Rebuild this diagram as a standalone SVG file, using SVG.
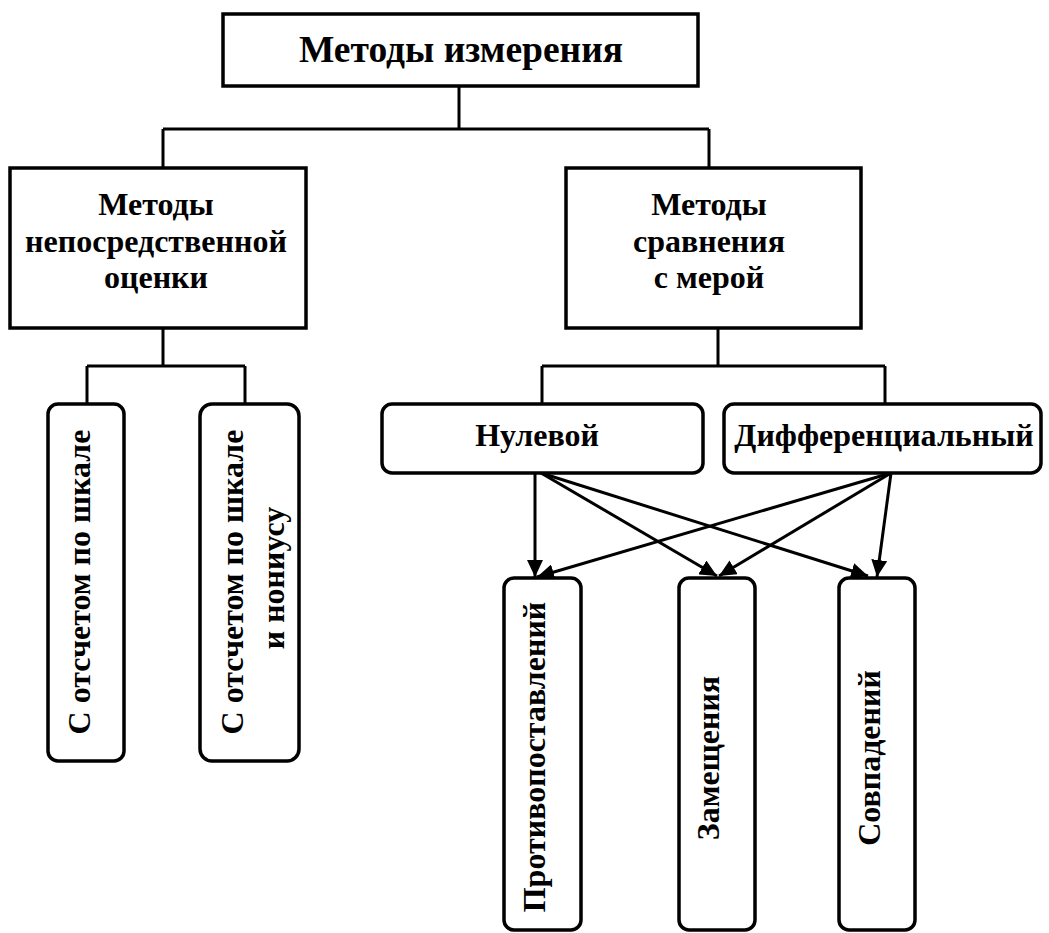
<svg xmlns="http://www.w3.org/2000/svg" width="1049" height="933" viewBox="0 0 1049 933">
<defs>
<style>
.box{fill:#fff;stroke:#000;stroke-width:3.5}
.ln{fill:none;stroke:#000;stroke-width:3}
.ar{fill:none;stroke:#000;stroke-width:3;marker-end:url(#ah)}
.t{font-family:"Liberation Serif","Times New Roman",serif;font-weight:bold;font-size:32px;fill:#000;text-anchor:middle}
.tt{font-size:37.5px}
</style>
<marker id="ah" markerUnits="userSpaceOnUse" markerWidth="17" markerHeight="16" refX="17" refY="8" orient="auto">
<path d="M0,0 L17,8 L0,16 z" fill="#000"/>
</marker>
</defs>
<rect width="1049" height="933" fill="#fff"/>
<g id="connectors">
<path class="ln" d="M459,86 V129 M163,129 H709 M163,129 V168 M709,129 V168"/>
<path class="ln" d="M163,328 V366 M87,366 H245 M87,366 V404 M245,366 V404"/>
<path class="ln" d="M718,328 V366 M542,366 H885 M542,366 V404 M885,366 V404"/>
<line class="ar" x1="535" y1="473" x2="535" y2="577"/>
<line class="ar" x1="541" y1="473" x2="717" y2="576"/>
<line class="ar" x1="541" y1="473" x2="868" y2="576"/>
<line class="ar" x1="891" y1="473" x2="537" y2="577"/>
<line class="ar" x1="891" y1="473" x2="719" y2="576"/>
<line class="ar" x1="891" y1="473" x2="877" y2="577"/>
</g>
<g id="n-root">
<rect class="box" x="223" y="14" width="475" height="72"/>
<text class="t tt" x="461" y="62">Методы измерения</text>
</g>
<g id="n-direct">
<rect class="box" x="10" y="168" width="296" height="160"/>
<text class="t" x="156" y="215">Методы</text>
<text class="t" x="156" y="252">непосредственной</text>
<text class="t" x="156" y="288">оценки</text>
</g>
<g id="n-compare">
<rect class="box" x="566" y="168" width="295" height="160"/>
<text class="t" x="709" y="215">Методы</text>
<text class="t" x="709" y="252">сравнения</text>
<text class="t" x="709" y="288">с мерой</text>
</g>
<g id="n-scale">
<rect class="box" x="48" y="404" width="76" height="357" rx="10"/>
<text class="t" transform="translate(90,582) rotate(-90)">С отсчетом по шкале</text>
</g>
<g id="n-vernier">
<rect class="box" x="200" y="404" width="99" height="357" rx="12"/>
<text class="t" transform="translate(243,582) rotate(-90)">С отсчетом по шкале</text>
<text class="t" transform="translate(284,578) rotate(-90)">и нониусу</text>
</g>
<g id="n-null">
<rect class="box" x="382" y="404" width="321" height="69" rx="10"/>
<text class="t" x="537" y="446">Нулевой</text>
</g>
<g id="n-diff">
<rect class="box" x="724" y="404" width="317" height="69" rx="10"/>
<text class="t" x="884" y="446">Дифференциальный</text>
</g>
<g id="n-opp">
<rect class="box" x="504" y="578" width="77" height="352" rx="10"/>
<text class="t" transform="translate(545,757) rotate(-90)">Противопоставлений</text>
</g>
<g id="n-subst">
<rect class="box" x="679" y="578" width="76" height="352" rx="10"/>
<text class="t" transform="translate(719,758) rotate(-90)">Замещения</text>
</g>
<g id="n-coinc">
<rect class="box" x="839" y="578" width="76" height="352" rx="10"/>
<text class="t" transform="translate(880,758) rotate(-90)">Совпадений</text>
</g>
</svg>
